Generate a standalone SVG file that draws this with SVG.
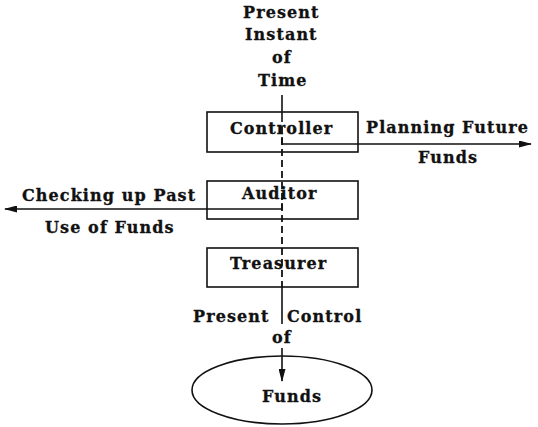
<svg xmlns="http://www.w3.org/2000/svg" width="538" height="427" viewBox="0 0 538 427">
<defs>
<style>
text{font-family:"DejaVu Serif","Liberation Serif",serif;font-weight:bold;font-size:16px;fill:#111;letter-spacing:1.1px;stroke:#111;stroke-width:0.3}
.box{fill:none;stroke:#111;stroke-width:1.6}
.ln{fill:none;stroke:#111;stroke-width:1.6}
.dash{fill:none;stroke:#111;stroke-width:1.8;stroke-dasharray:7,4}
</style>
<marker id="ah" markerWidth="13" markerHeight="7" refX="12" refY="3.5" orient="auto" markerUnits="userSpaceOnUse">
<path d="M0,0 L13,3.5 L0,7 Z" fill="#111"/>
</marker>
</defs>
<rect width="538" height="427" fill="#fff"/>
<g id="time-label">
<text x="243" y="18">Present</text>
<text x="245" y="40">Instant</text>
<text x="272" y="63">of</text>
<text x="258" y="86">Time</text>
</g>
<g id="controller">
<rect class="box" x="207" y="112" width="151" height="40"/>
<text x="230" y="134">Controller</text>
</g>
<g id="auditor">
<rect class="box" x="207" y="181" width="151" height="38"/>
<text x="242" y="199">Auditor</text>
</g>
<g id="treasurer">
<rect class="box" x="207" y="248" width="151" height="39"/>
<text x="230" y="269">Treasurer</text>
</g>
<g id="funds">
<ellipse class="box" cx="282" cy="390" rx="90" ry="34"/>
<text x="262" y="402">Funds</text>
</g>
<g id="connectors">
<line class="ln" x1="282" y1="95" x2="282" y2="122"/>
<line class="dash" x1="282" y1="127" x2="282" y2="287"/>
<line class="ln" x1="282" y1="287" x2="282" y2="324"/>
<line class="ln" x1="282" y1="348" x2="282" y2="381" marker-end="url(#ah)"/>
<polyline class="ln" points="282,137 282,144 531,144" marker-end="url(#ah)"/>
<polyline class="ln" points="282,203 282,209 5,209" marker-end="url(#ah)"/>
</g>
<g id="labels">
<text x="366" y="133">Planning Future</text>
<text x="418" y="163">Funds</text>
<text x="22" y="201">Checking up Past</text>
<text x="45" y="233">Use of Funds</text>
<text x="193" y="322">Present</text>
<text x="287" y="322">Control</text>
<text x="272" y="343">of</text>
</g>
</svg>
